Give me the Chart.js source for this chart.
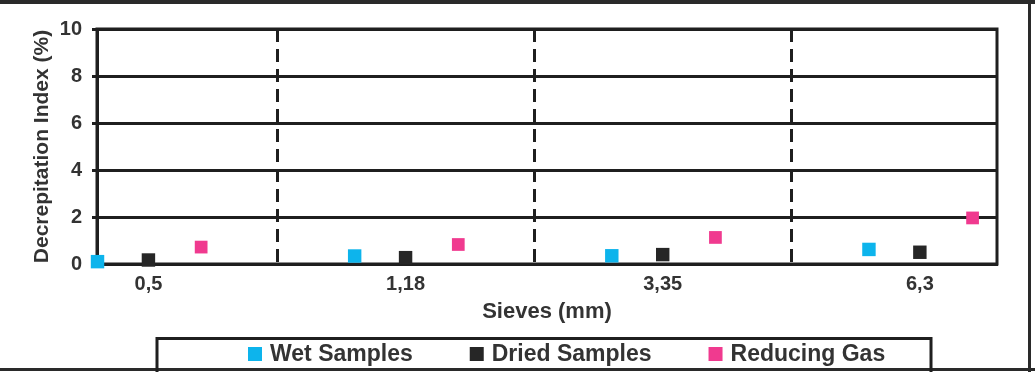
<!DOCTYPE html>
<html>
<head>
<meta charset="utf-8">
<script src="https://cdn.jsdelivr.net/npm/chart.js@4.4.1/dist/chart.umd.min.js"></script>
<style>
    html, body { margin: 0; padding: 0; background: #fff; }
    .chart-wrap { position: relative; width: 1035px; height: 372px; }
</style>
</head>
<body>
<div class="chart-wrap">
    <canvas id="decrepitationChart"></canvas>
</div>
<script>
const sieves = ['0,5', '1,18', '3,35', '6,3'];
const wetSamples = [0.1, 0.34, 0.35, 0.62];
const driedSamples = [0.17, 0.27, 0.4, 0.5];
const reducingGas = [0.72, 0.83, 1.13, 1.96];
const yTicks = [0, 2, 4, 6, 8, 10];

const FONT = "'Liberation Sans', Arial, sans-serif";
const TEXT = '#333333';
const LINE = '#1f1f1f';

// position of each series inside a sieve group (in category units)
function toPoints(values, shift) {
    return values.map((v, i) => ({ x: i + shift, y: v }));
}

const chartAreaBorder = {
    id: 'chartAreaBorder',
    beforeDatasetsDraw(chart, args, options) {
        const { ctx, chartArea: { left, top, width, height } } = chart;
        ctx.save();
        ctx.strokeStyle = options.borderColor;
        ctx.lineWidth = options.borderWidth;
        ctx.strokeRect(left, top, width, height);
        ctx.restore();
    }
};

const frameAndLegend = {
    id: 'frameAndLegend',
    afterDraw(chart, args, options) {
        const { ctx, width, height } = chart;
        ctx.save();
        // outer frame of the figure
        ctx.fillStyle = '#2a2a2a';
        ctx.fillRect(0, 0, width, 4);
        ctx.fillRect(1028, 0, 3, height);
        ctx.fillRect(0, 368, width, 3);

        // legend box
        ctx.strokeStyle = LINE;
        ctx.lineWidth = 3;
        ctx.strokeRect(options.boxLeft, options.boxTop, options.boxRight - options.boxLeft, height - options.boxTop + 4);

        ctx.font = 'bold 23px ' + FONT;
        ctx.textBaseline = 'middle';
        ctx.textAlign = 'left';
        let x = options.startX;
        const y = options.itemY;
        chart.data.datasets.forEach(ds => {
            ctx.fillStyle = ds.backgroundColor;
            ctx.fillRect(x, y - 7, 14, 14);
            ctx.fillStyle = TEXT;
            ctx.fillText(ds.label, x + options.textOffset, y + 1);
            x += options.textOffset + ctx.measureText(ds.label).width + options.gap;
        });
        ctx.restore();
    }
};

const ctx = document.getElementById('decrepitationChart').getContext('2d');

new Chart(ctx, {
    type: 'scatter',
    data: {
        datasets: [{
            label: 'Wet Samples',
            data: toPoints(wetSamples, -0.198),
            backgroundColor: '#0db4ec',
            borderWidth: 0,
            pointStyle: 'rect',
            pointRadius: 9.5,
            clip: false
        },
        {
            label: 'Dried Samples',
            data: toPoints(driedSamples, 0),
            backgroundColor: '#262626',
            borderWidth: 0,
            pointStyle: 'rect',
            pointRadius: 9.5,
            clip: false
        },
        {
            label: 'Reducing Gas',
            data: toPoints(reducingGas, 0.205),
            backgroundColor: '#f03a8f',
            borderWidth: 0,
            pointStyle: 'rect',
            pointRadius: 9,
            clip: false
        }]
    },
    options: {
        responsive: true,
        maintainAspectRatio: false,
        animation: false,
        layout: {
            padding: { top: 29, right: 38, bottom: 45, left: 0 }
        },
        scales: {
            x: {
                type: 'linear',
                position: 'bottom',
                min: -0.2,
                max: 3.3,
                afterBuildTicks: scale => {
                    scale.ticks = sieves.map((_, i) => ({ value: i }));
                },
                afterFit: scale => { scale.height = 63; },
                grid: { display: false, drawTicks: false },
                border: { display: true, color: LINE, width: 3 },
                ticks: {
                    padding: 8,
                    color: TEXT,
                    font: { family: FONT, size: 20, weight: 'bold' },
                    callback: value => sieves[value]
                },
                title: {
                    display: true,
                    text: 'Sieves (mm)',
                    color: TEXT,
                    font: { family: FONT, size: 22, weight: 'bold' },
                    padding: { top: 0, bottom: 2 }
                }
            },
            // dashed separators between the sieve groups
            xGroups: {
                type: 'linear',
                position: 'bottom',
                min: -0.2,
                max: 3.3,
                afterBuildTicks: scale => {
                    scale.ticks = sieves.slice(1).map((_, i) => ({ value: i + 0.5 }));
                },
                afterFit: scale => { scale.height = 0; },
                grid: { color: LINE, lineWidth: 3, drawTicks: false },
                border: { display: false, dash: [13, 7] },
                ticks: { display: false }
            },
            y: {
                min: 0,
                max: 10,
                afterBuildTicks: scale => {
                    scale.ticks = yTicks.map(v => ({ value: v }));
                },
                afterFit: scale => { scale.width = 97; },
                grid: { color: LINE, lineWidth: 3, tickLength: 5 },
                border: { display: true, color: LINE, width: 3 },
                ticks: {
                    padding: 10,
                    color: TEXT,
                    font: { family: FONT, size: 20, weight: 'bold' }
                },
                title: {
                    display: true,
                    text: 'Decrepitation Index (%)',
                    color: TEXT,
                    font: { family: FONT, size: 21, weight: 'bold' },
                    padding: { top: 30, bottom: 0 }
                }
            }
        },
        plugins: {
            legend: { display: false },
            tooltip: { enabled: false },
            chartAreaBorder: {
                borderColor: LINE,
                borderWidth: 3
            },
            frameAndLegend: {
                boxLeft: 157,
                boxRight: 931,
                boxTop: 338.5,
                startX: 248,
                itemY: 354,
                textOffset: 22,
                gap: 57
            }
        }
    },
    plugins: [chartAreaBorder, frameAndLegend]
});
</script>
</body>
</html>
